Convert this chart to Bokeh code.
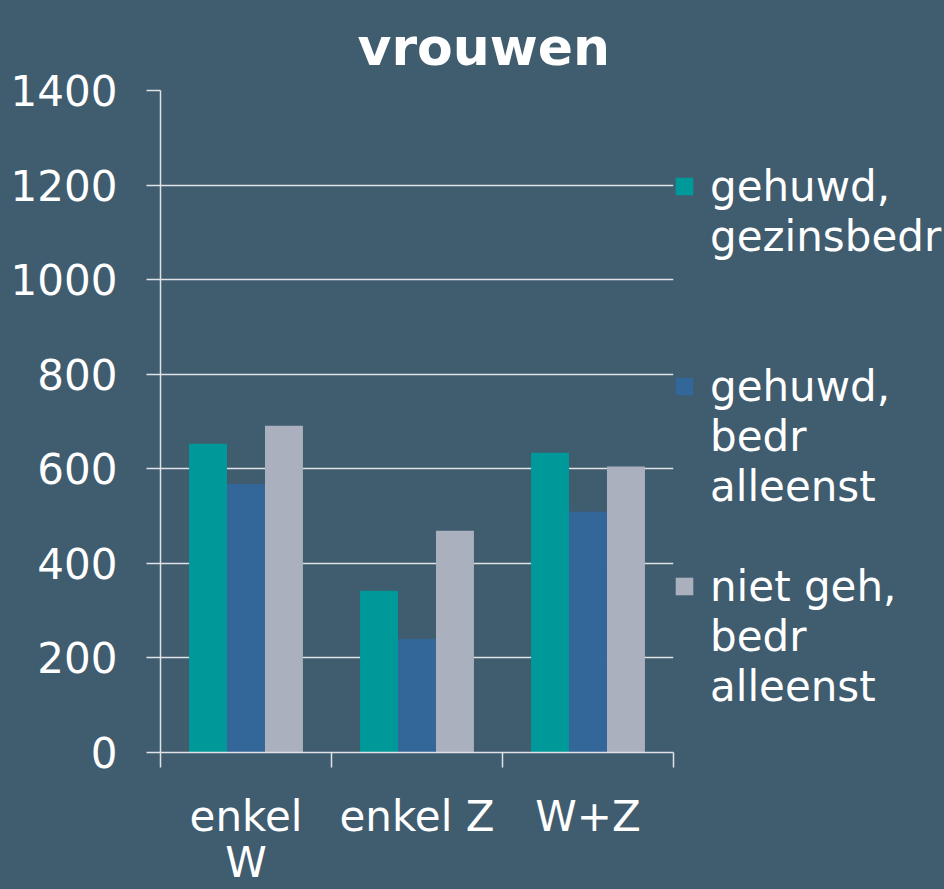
from bokeh.plotting import figure
from bokeh.models import (ColumnDataSource, Range1d, LinearAxis,
                          FixedTicker, Legend, LegendItem)
from bokeh.transform import dodge
from bokeh.embed import file_html
from bokeh.resources import INLINE

categories = ["enkel W", "enkel Z", "W+Z"]
category_labels = ["enkel\nW", "enkel Z", "W+Z"]
series_names = [["gehuwd,", "gezinsbedr"], ["gehuwd,", "bedr", "alleenst"], ["niet geh,", "bedr", "alleenst"]]
gehuwd_gezinsbedr = [653, 342, 634]
gehuwd_bedr_alleenst = [568, 240, 509]
niet_geh_bedr_alleenst = [691, 469, 605]
yticks = [0, 200, 400, 600, 800, 1000, 1200, 1400]

BG = "#405c6f"
COLORS = ["#009999", "#336699", "#aab0be"]
LINE = "#dfe3e6"
FONT = "DejaVu Sans"

n = len(categories)
centers = [i + 0.5 for i in range(n)]
edges = list(range(n + 1))

source = ColumnDataSource(dict(x=centers, s1=gehuwd_gezinsbedr,
                               s2=gehuwd_bedr_alleenst, s3=niet_geh_bedr_alleenst))

p = figure(width=944, height=889, frame_width=513, frame_height=662,
           x_range=Range1d(0, n),
           y_range=Range1d(yticks[0], yticks[-1]), output_backend="svg",
           toolbar_location=None, x_axis_location=None, y_axis_location="left",
           min_border_left=160, min_border_right=271, min_border_top=90, min_border_bottom=137,
           background_fill_color=BG, border_fill_color=BG, outline_line_color=None)

p.title.text = "vrouwen"
p.title.text_font = FONT
p.title.text_font_size = "52px"
p.title.text_font_style = "bold"
p.title.text_color = "white"
p.title.align = "left"
p.title.offset = 197
p.title.standoff = 28

bw = 0.222
renderers = []
for col, off, color in zip(["s1", "s2", "s3"], [-bw, 0, bw], COLORS):
    r = p.vbar(x=dodge("x", off), top=col, width=bw, bottom=0,
               source=source, fill_color=color, line_color=None)
    renderers.append(r)
# invisible swatch for continuation lines of the legend labels
blank = p.vbar(x=[], top=[], width=bw, fill_alpha=0, line_alpha=0)

# y axis
yax = p.yaxis[0]
yax.ticker = FixedTicker(ticks=yticks)
yax.axis_line_color = LINE
yax.axis_line_width = 1.5
yax.major_tick_out = 14
yax.major_tick_in = 0
yax.major_tick_line_color = LINE
yax.major_tick_line_width = 1.5
yax.minor_tick_line_color = None
yax.major_label_text_font = FONT
yax.major_label_text_font_size = "42px"
yax.major_label_text_color = "white"
yax.major_label_standoff = 29

p.ygrid.ticker = FixedTicker(ticks=yticks)
p.ygrid.grid_line_color = LINE
p.ygrid.grid_line_width = 1.5
p.xgrid.grid_line_color = None

# x axis: ticks at category edges, labels at centers
tick_ax = LinearAxis(ticker=FixedTicker(ticks=edges),
                     axis_line_color=LINE, axis_line_width=1.5,
                     major_tick_out=15, major_tick_in=0, major_tick_line_color=LINE,
                     major_tick_line_width=1.5, minor_tick_line_color=None,
                     major_label_text_font_size="1px", major_label_text_color=None,
                     major_label_standoff=0)
p.add_layout(tick_ax, "below")
lab_ax = LinearAxis(ticker=FixedTicker(ticks=centers),
                    axis_line_color=None, major_tick_line_color=None, major_tick_out=0,
                    minor_tick_line_color=None,
                    major_label_text_font=FONT, major_label_text_font_size="42px",
                    major_label_text_line_height=0.95,
                    major_label_text_color="white", major_label_standoff=24,
                    major_label_overrides=dict(zip(centers, category_labels)))
p.add_layout(lab_ax, "below")

items = []
for k, (lines, r) in enumerate(zip(series_names, renderers)):
    items.append(LegendItem(label=lines[0], renderers=[r]))
    for ln in lines[1:]:
        items.append(LegendItem(label=ln, renderers=[blank]))
    if k < len(series_names) - 1:
        for _ in range(4 - len(lines)):
            items.append(LegendItem(label=" ", renderers=[blank]))

legend = Legend(items=items, location="top_left", orientation="vertical",
                title=" ", title_text_font_size="20px", title_standoff=48,
                background_fill_alpha=0, border_line_color=None,
                label_text_font=FONT, label_text_font_size="42px", label_text_color="white",
                glyph_width=22, glyph_height=22, label_standoff=15, padding=0, margin=0,
                spacing=0, label_height=50)
p.add_layout(legend, "right")

html = file_html(p, INLINE)
html = html.replace("</head>",
                    "<style>html,body{background:%s;overflow:hidden;}</style></head>" % BG, 1)
open("out.html", "w").write(html)
